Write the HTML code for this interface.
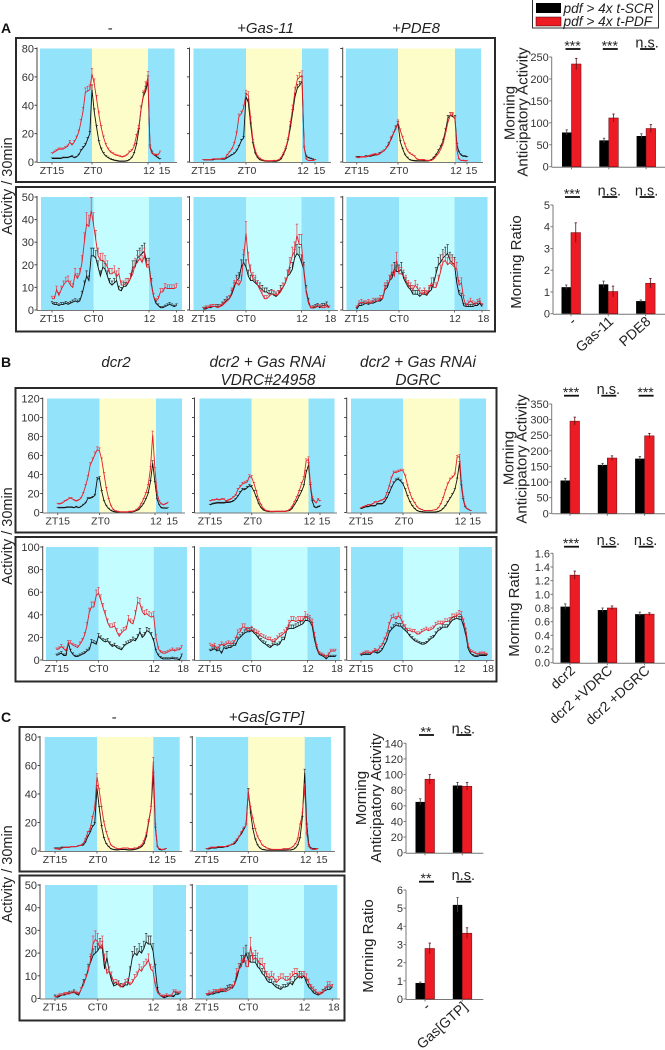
<!DOCTYPE html>
<html lang="en">
<head>
<meta charset="utf-8">
<title>Morning anticipatory activity</title>
<style>
html,body{margin:0;padding:0;background:#fff;width:665px;height:1050px;overflow:hidden}
svg{display:block;font-family:"Liberation Sans",Arial,sans-serif}
.h{font-size:15px;font-style:italic;fill:#222;text-anchor:middle}
.p{font-size:14px;font-weight:bold;fill:#111}
.t{font-size:15px;fill:#222;text-anchor:middle}
</style>
</head>
<body>
<svg id="fig" xmlns="http://www.w3.org/2000/svg" width="665" height="1050" viewBox="0 0 665 1050">
  <rect width="665" height="1050" fill="#fff"/>
  <g id="layer"></g>
  <g fill="none" stroke="#2a2a2a" stroke-width="2">
    <rect x="16" y="38" width="479" height="144"/>
    <rect x="16" y="187" width="479" height="144.5"/>
    <rect x="15.5" y="388" width="481" height="144.5"/>
    <rect x="15.5" y="537" width="481" height="144.5"/>
    <rect x="19.5" y="727" width="325" height="144.5"/>
    <rect x="19.5" y="875.5" width="325" height="145"/>
  </g>
  <text class="p" x="1" y="33">A</text>
  <text class="p" x="1" y="367">B</text>
  <text class="p" x="1" y="722">C</text>
  <text class="h" x="110" y="33">-</text>
  <text class="h" x="265.5" y="33">+Gas-11</text>
  <text class="h" x="416" y="33">+PDE8</text>
  <text class="h" x="116" y="367">dcr2</text>
  <text class="h" style="font-size:15.4px" x="267.5" y="367">dcr2 + Gas RNAi</text>
  <text class="h" style="font-size:15.4px" x="268" y="385">VDRC#24958</text>
  <text class="h" style="font-size:15.4px" x="418" y="367">dcr2 + Gas RNAi</text>
  <text class="h" style="font-size:15.4px" x="418" y="385">DGRC</text>
  <text class="h" x="114" y="722">-</text>
  <text class="h" x="266.5" y="722">+Gas[GTP]</text>
  <text class="t" style="font-size:14.5px" transform="translate(12,186) rotate(-90)">Activity / 30min</text>
  <text class="t" style="font-size:14.5px" transform="translate(12,536) rotate(-90)">Activity / 30min</text>
  <text class="t" style="font-size:14.5px" transform="translate(12,874) rotate(-90)">Activity / 30min</text>
  <text class="t" transform="translate(514.5,113) rotate(-90)">Morning</text>
  <text class="t" transform="translate(527.5,112) rotate(-90)">Anticipatory Activity</text>
  <text class="t" transform="translate(521,262) rotate(-90)">Morning Ratio</text>
  <text class="t" transform="translate(513.5,458) rotate(-90)">Morning</text>
  <text class="t" transform="translate(526.5,459) rotate(-90)">Anticipatory Activity</text>
  <text class="t" transform="translate(519,610) rotate(-90)">Morning Ratio</text>
  <text class="t" transform="translate(366,798) rotate(-90)">Morning</text>
  <text class="t" transform="translate(381,798) rotate(-90)">Anticipatory Activity</text>
  <text class="t" transform="translate(373,946) rotate(-90)">Morning Ratio</text>
  <g>
    <rect x="532.5" y="-1" width="126" height="29" fill="#fff" stroke="#333" stroke-width="1"/>
    <rect x="536" y="3" width="25" height="10" fill="#000"/>
    <rect x="536" y="17" width="25" height="9" fill="#ed1c24" stroke="#300" stroke-width="0.5"/>
    <text x="563.5" y="13" font-size="13.7" font-style="italic" fill="#222">pdf &gt; 4x t-SCR</text>
    <text x="563.5" y="26" font-size="13.7" font-style="italic" fill="#222">pdf &gt; 4x t-PDF</text>
  </g>
</svg>
<script>
// ---------- line chart data (half-hour bins, ZT15 onward) ----------
const ldTickBins = [0, 18, 42, 48];
const ddTickBins = [0, 18, 42, 54];
const ldTickLabels = ['ZT15', 'ZT0', '12', '15'];
const ddTickLabels = ['ZT15', 'CT0', '12', '18'];
const yTicks80 = [0, 20, 40, 60, 80];
const yTicks50 = [0, 10, 20, 30, 40, 50];
const yTicks120 = [0, 20, 40, 60, 80, 100, 120];
const yTicks100 = [0, 20, 40, 60, 80, 100];

const a1Red = [6,7,8,9,9,9,10,11,14,12,14,17,21,28,36,49,50,51,62,55,44,33,24,17,12,9,7,6,5,4.5,4,3.5,4,5,7,8,11,18,24,37,47,53,60,10,6,5,5,5,7];
const a1Black = [2.5,2.5,2.5,2.5,2.5,3,3,3,3.5,4,3,3.5,5,8,10,12,16,20,51,35,24,14,9,6,4,3,2,1.5,1,.7,.5,.5,.5,.7,1.5,3,6,12,22,37,46,50,57,11,7,5,4,3,2];
const a2Red = [1.5,1.5,1.5,1.5,2,2,2,2,2.5,2.5,5,7,9,13,20,32,34,38,48,47,30,15,8,4,2.5,1.5,1,.8,.8,.8,1,1,1.5,3,6,10,16,27,38,50,58,60,61,10,2,1,1,1,1.5];
const a2Black = [1.5,1.5,1.5,1.5,1.5,2,2,2,2,2,3,4,5,6,8,11,15,17,46,42,26,13,6,3,1.5,1,.7,.5,.5,.5,.5,.5,1,2,5,9,15,24,35,46,52,54,57,10,4,3,2.5,2,1.5];
const a3Red = [3,3,3.5,3.5,3.5,4,4.5,5,5.5,5,5.5,7,8,10,12,17,20,23,28,22,17,12,8,6,5,4,2,1.5,1.5,1.5,1,1,1,2,4,6,9,13,20,28,33,33,30,8,2,1,1,.8,.8];
const a3Black = [3.5,3.5,3.5,3.5,4,4,4,4.5,5,5,6,7,8,10,13,16,20,24,27,14,9,5,3,1.5,1,.8,.7,.6,.6,.8,.6,.8,1.5,3,5,8,11,15,22,31,33,32,31,12,7,5,4,4,3.5];
const a4Red = [5,5,9,6.5,9,11,12.5,13,11,10,16,14,16,21,30,38,37,44,38,31,24,22,22,21,19,16,16,17,15,16,11,11,12,12,14,16,20,21,23,21,24,19,19,11,6,4,5,8,8,10,9.5,9.5,9.5,9.5,10];
const a4Black = [3,2.5,2.5,2,2.5,2.5,3,2.5,3,3.5,4,3.5,4,7,11,15,13,24,24,23,19,15,19,18,15,12,11,12,13,9,8.5,10.5,10.5,12,14,19,19,23,24,25,26,20,20,12,6,3,2,1,1,1.5,2,2.5,2,1.5,2];
const a5Red = [.5,1,1,1.5,1.5,1.5,1,1.5,2,3,4,5,8,11,12,11,13,23,34,22,17,14,13,11,9,7,5,5,6,7,7,6.5,7,8,10,12,15,20,24,26,33,29,29,17,8,3,1,.8,1,1.5,1.5,1,1,1.5,1];
const a5Black = [.3,.5,1,1,1.5,1.5,1.5,1.5,2.5,3.5,4.5,5,7,10,13,14,19,21,19,15,13,13,12,11,10,9,8,8,7,7.5,6.5,6,7,9,10,12,15,16,18,23,25,24,21,18,9,4,1,1,1.5,2,1,2,2,2.5,1];
const a6Red = [1,3,3.5,3,3,3.5,3,4,4,4,5,5,10,11,13,17,15,22,16,16,15,13,11,10,9,11,9.5,8,7,8,7,9,12,10,10,13,17,21,22,20,21,20,19,18,11,12,5,2,3,4,3,2.5,3.5,4,2];
const a6Black = [.3,2,2,2.5,3,2.5,3,3,3.5,4,4,5,9,10,13,14,18,17,17,18,14,12,10,9,7,7,7,6,7,7,6.5,8,9,12,16,20,21,23,24,25,22,21,20,12,7,6,2,1.5,1.5,1.5,1.5,2,2,3,1.5];
const b1Red = [9,9,10,12,13,15,15,13,12,13,15,20,28,37,50,55,61,66,65,55,40,25,14,7,3,1.5,1,.5,.5,.5,.5,1,1,1.5,3,5,9,14,20,28,46,82,45,20,12,9,8,9,10];
const b1Black = [5,5,5,5,5.5,5.5,5.5,5,6,5,6,8,10,15,15,16,18,35,36,22,12,7,4,2,1,.5,.5,.3,.3,.3,.3,.5,.5,1,2,3,6,9,14,20,32,52,31,14,8,5,4.5,4.5,4.5];
const b2Red = [12,13,13,14,13,14,14,12,13,14,16,18,24,27,30,31,32,38,37,30,22,13,8,4,2,1.5,1,1,1,1,1,1,1,1.5,3,6,11,16,22,30,36,54,56,30,16,12,10,14,12];
const b2Black = [8,9,9.5,10,10,10,10,10.5,10.5,11,12,14,17,21,24,24,26,28,27,22,16,9,5,2.5,1.5,1,.8,.8,1,1,1,1,1,1.5,2,4,8,12,17,22,28,42,50,28,12,6,5,6,6.5];
const b3Red = [5,6,7,8,8,9,11,11,12,13,14,20,27,36,42,42,43,44,44,38,28,20,14,10,6,4,3,2,2,2,2,2.5,3,5,9,15,23,30,35,37,40,58,59,32,16,7,4,3,2];
const b3Black = [4,5,6,6,7,7,7,9,9,9,11,15,20,26,31,34,35,33,30,24,17,11,7,4,2,1,.7,.5,.3,.3,.3,.3,.5,1,2,4,7,11,15,19,24,35,52,28,14,6,4,3,2];
const b4Red = [9,10,12,10,8,15,15,13,12,11,14,17,22,30,42,47,47,57,59,53,46,40,33,29,29,30,25,21,24,26,27,36,33,32,40,51,50,43,40,41,39,38,39,20,10,7,6,6,7,8,9,8,9,9,11];
const b4Black = [4,5,6,4,4,15,8,5,3,3,4,5,6,8,9,16,15,14,21,19,17,16,17,14,12,13,11,10,9,12,14,15,16,18,17,20,25,20,22,26,25,22,17,8,4,2,1,1,1,1,1.5,1,1,0,4];
const b5Red = [13,12,13,10,12,14,13,14,15,14,15,18,24,25,29,29,26,26,27,25,24,23,21,20,19,18,18,16,17,19,21,22,24,26,32,35,35,34,35,35,35,39,37,36,33,22,12,6,5,4,3,5,8,8,8];
const b5Black = [8,9,10,8,9,6,11,10,11,11,13,13,18,20,22,24,25,25,26,24,22,19,17,15,14,12,11,13,14,13,14,18,18,26,28,28,28,29,30,31,32,35,35,34,30,18,10,5,4,3,1,3,3,3,3];
const b6Red = [5,6,7,7,6,7,9,8,11,13,18,22,31,37,38,36,39,37,32,29,26,26,25,25,23,23,25,26,27,26,27,28,31,32,32,32,34,34,35,38,38,39,41,40,34,26,13,8,7,6,5,6,6,6,5];
const b6Black = [4,5,5,5,5,7,7,6,7,9,13,17,24,27,29,31,30,30,28,26,24,21,19,17,16,15,14,14,15,17,19,20,23,26,27,29,29,29,32,35,36,37,36,36,30,22,10,6,4,3,3,4,4,4,4];
const c1Red = [1.5,1.5,1,2,2.5,2.5,2.5,3,3,3,3.5,4,5,8,13,15,23,30,52,42,30,20,13,8,4,3,2,1.5,1.5,2,2,2,1.5,1.5,2,2,3,4,7,12,21,30,63,18,3,1.5,1,1,1.5];
const c1Black = [2,2,2,2.5,2.5,2.5,2.5,3,3,3,3.5,4,4,6,10,13,17,19,44,30,17,9,5,3,1.5,1,.8,.8,1,1,1,.8,.6,.8,1,1.5,2,3,5,10,20,30,53,16,3,1,.8,1,1.5];
const c2Red = [1.5,2,2.5,2.5,2.5,3,3,3,3,3.5,4,4.5,6,8,10,13,16,18,41,30,22,15,10,7,4,3,2,1.5,1,1,1,1,1,1.5,1.5,1.5,2,3,5,8,18,26,45,12,3,1.5,1,1,1.5];
const c2Black = [1.5,1.5,2,2,2,2.5,2.5,2.5,3,3,4,4.5,5,7,10,12,15,18,42,26,15,8,4,2,1,.8,.5,.5,.5,.5,.5,.5,.5,.5,.5,.6,.7,1,2,4,9,23,55,18,4,2,1.5,1.5,1.5];
const c3Red = [.5,1,1.5,1.5,2,2,2,2.5,2.5,2.5,2,4,6,9,12,17,24,26,25,22,24,17,11,12,10,7,7,6,5,5.5,7,7.5,6,7,9,10,13,12,14,15,17,13,12,6,2.5,1.5,1,1,1.5,1,1,3,3,2.5,2.5];
const c3Black = [1,.5,1,1.5,1.5,2,2.5,2.5,3,2,1.5,4,7,9,13,16,19,20,21,23,22,13,18,12,8,5.5,6,6.5,5.5,5,6,6,12,18,20,19,21,20,22,25,24,24,21,13,4,1.5,.8,.3,.8,1,1,.8,2,1.8,2.5];
const c4Red = [1.5,2.5,2,3,3,3,3.5,3.5,3,3.5,4,5,6,11,13,14,19,14,14,23,17,18,17,15,15,13,10,9,10,9,7,8,9,9,8,8,9,10,11,11,9,10,10,9,7,5,4,3,2,2,2.5,4,6,6,5];
const c4Black = [1.5,1.5,2,2,2.5,2.5,3,3,3.5,4.5,5,4.5,6,9,13,16,16,20,17,16,16,16,14,13,11,10,8,7,7,6,5,4.5,4,5,5,5.5,7,6,8,9,10,9,10,7,5,4,2.5,2,1.5,2,3,3.5,4,4,5];

// ---------- bar chart data ----------
const aGroups = ['-', 'Gas-11', 'PDE8'];
const bGroups = ['dcr2', 'dcr2 +VDRC', 'dcr2 +DGRC'];
const cGroups = ['-', 'Gas[GTP]'];
const aAnticTicks = ['0','50','100','150','200','250'];
const aRatioTicks = ['0','1','2','3','4','5'];
const bAnticTicks = ['0','50','100','150','200','250','300','350'];
const bRatioTicks = ['0.0','0.2','0.4','0.6','0.8','1.0','1.2','1.4','1.6'];
const cAnticTicks = ['0','20','40','60','80','100','120','140'];
const cRatioTicks = ['0','1','2','3','4','5','6'];
const aAnticScr = [78, 60, 70];
const aAnticPdf = [234, 111, 87];
const aAnticScrErr = [6, 5, 5];
const aAnticPdfErr = [13, 9, 9];
const aAnticSig = ['***', '***', 'n.s.'];
const aRatioScr = [1.22, 1.35, 0.58];
const aRatioPdf = [3.73, 1.02, 1.4];
const aRatioScrErr = [0.1, 0.15, 0.05];
const aRatioPdfErr = [0.45, 0.25, 0.22];
const aRatioSig = ['***', 'n.s.', 'n.s.'];
const bAnticScr = [105, 155, 175];
const bAnticPdf = [295, 177, 248];
const bAnticScrErr = [7, 5, 7];
const bAnticPdfErr = [13, 7, 8];
const bAnticSig = ['***', 'n.s.', '***'];
const bRatioScr = [0.82, 0.77, 0.71];
const bRatioPdf = [1.28, 0.8, 0.71];
const bRatioScrErr = [0.04, 0.03, 0.03];
const bRatioPdfErr = [0.06, 0.03, 0.02];
const bRatioSig = ['***', 'n.s.', 'n.s.'];
const cAnticScr = [65, 86];
const cAnticPdf = [94, 85];
const cAnticScrErr = [4, 4];
const cAnticPdfErr = [6, 5];
const cAnticSig = ['**', 'n.s.'];
const cRatioScr = [0.88, 5.18];
const cRatioPdf = [2.78, 3.62];
const cRatioScrErr = [0.05, 0.4];
const cRatioPdfErr = [0.3, 0.3];
const cRatioSig = ['**', 'n.s.'];

// ---------- drawing helpers ----------
const NS = 'http://www.w3.org/2000/svg';
const layer = document.getElementById('layer');
const RED = '#e21f2b', BLK = '#111111';
const NIGHT = '#93e3fb', DAY = '#fdfdc9', SUBJ = '#c4fdff';

function make(tag, parent, name, attrs, text) {
  const node = document.createElementNS(NS, tag);
  for (const k in attrs) node.setAttribute(k, attrs[k]);
  
  
  if (text !== undefined) node.textContent = text;
  parent.appendChild(node);
  return node;
}

function linePanel(id, g, red, black, yTicks, tickBins, tickLabels, showY, errFrac, errBase, dayColor) {
  const root = make('g', layer, 'chart-' + id, {});
  const yMax = yTicks[yTicks.length - 1];
  const yS = v => g.y0 + (g.yT - g.y0) * v / yMax;
  const px = [g.x15, g.xD, g.xN, g.xE];
  const labelShift = tickBins[3] === 48 ? [0, 1, 1, 4.5] : [0, 0, 0.5, 1.5];
  const xS = i => {
    for (let s = 0; s < tickBins.length - 1; s++) {
      if (i <= tickBins[s + 1]) {
        return px[s] + (px[s + 1] - px[s]) * (i - tickBins[s]) / (tickBins[s + 1] - tickBins[s]);
      }
    }
    return px[3];
  };
  make('rect', root, 'night-band-left', {x: g.bL, y: g.yT, width: g.s1 - g.bL, height: g.y0 - g.yT, fill: NIGHT});
  make('rect', root, 'day-band', {x: g.s1, y: g.yT, width: g.s2 - g.s1, height: g.y0 - g.yT, fill: dayColor});
  make('rect', root, 'night-band-right', {x: g.s2, y: g.yT, width: g.bR - g.s2, height: g.y0 - g.yT, fill: NIGHT});
  make('line', root, 'y-axis', {x1: g.ax, x2: g.ax, y1: g.yT - 1, y2: g.y0, stroke: '#444', 'stroke-width': 1});
  make('line', root, 'x-axis', {x1: g.ax, x2: g.end, y1: g.y0 + .5, y2: g.y0 + .5, stroke: '#777', 'stroke-width': 1});
  yTicks.forEach(t => {
    make('line', root, 'y-tick', {x1: g.ax - 2.5, x2: g.ax, y1: yS(t), y2: yS(t), stroke: '#444', 'stroke-width': 1});
    if (showY) {
      make('text', root, 'y-tick-label', {x: g.ax - 3, y: yS(t) + 4, 'text-anchor': 'end', 'font-size': 11, fill: '#333'}, t);
    }
  });
  tickBins.forEach((b, i) => {
    make('line', root, 'x-tick', {x1: xS(b), x2: xS(b), y1: g.y0, y2: g.y0 + 2.5, stroke: '#666', 'stroke-width': 1});
    make('text', root, 'x-tick-label', {x: xS(b) + labelShift[i], y: g.y0 + 12, 'text-anchor': 'middle', 'font-size': 10.5, fill: '#333'}, tickLabels[i]);
  });
  [[black, BLK, '#333', 'scr'], [red, RED, '#e8434e', 'pdf']].forEach(([vals, col, errCol, key]) => {
    let d = '', e = '';
    vals.forEach((v, i) => {
      const x = xS(i), y = yS(v), top = yS(v + v * errFrac + errBase);
      d += (i ? 'L' : 'M') + x.toFixed(1) + ' ' + y.toFixed(1);
      e += 'M' + x.toFixed(1) + ' ' + y.toFixed(1) + 'V' + top.toFixed(1) + 'M' + (x - 1.2).toFixed(1) + ' ' + top.toFixed(1) + 'H' + (x + 1.2).toFixed(1);
    });
    make('path', root, 'error-bars-' + key, {d: e, fill: 'none', stroke: errCol, 'stroke-width': .7});
    make('path', root, 'activity-line-' + key, {d: d, fill: 'none', stroke: col, 'stroke-width': .9});
  });
}

function barPanel(id, g, labels, scr, pdf, scrErr, pdfErr, ticks, sig) {
  const root = make('g', layer, 'bar-chart-' + id, {});
  const yMax = parseFloat(ticks[ticks.length - 1]);
  const yS = v => g.y0 + (g.yT - g.y0) * v / yMax;
  make('line', root, 'y-axis', {x1: g.ax, x2: g.ax, y1: g.yT, y2: g.y0, stroke: '#777', 'stroke-width': 1});
  make('line', root, 'x-axis', {x1: g.ax, x2: g.end, y1: g.y0 + .5, y2: g.y0 + .5, stroke: '#777', 'stroke-width': 1});
  ticks.forEach(t => {
    const y = yS(parseFloat(t));
    make('line', root, 'y-tick', {x1: g.ax - 2.5, x2: g.ax, y1: y, y2: y, stroke: '#777', 'stroke-width': 1});
    make('text', root, 'y-tick-label', {x: g.ax - 3, y: y + 4, 'text-anchor': 'end', 'font-size': 11, fill: '#333'}, t);
  });
  labels.forEach((lab, i) => {
    const c = g.c0 + g.step * i, w = g.bw;
    make('line', root, 'x-tick', {x1: c, x2: c, y1: g.y0, y2: g.y0 + 2.5, stroke: '#777', 'stroke-width': 1});
    make('rect', root, 'bar-scr-' + lab, {x: c - w, y: yS(scr[i]), width: w, height: g.y0 - yS(scr[i]), fill: '#000'});
    make('rect', root, 'bar-pdf-' + lab, {x: c, y: yS(pdf[i]), width: w, height: g.y0 - yS(pdf[i]), fill: '#ed1c24', stroke: '#7a1218', 'stroke-width': .6});
    [[c - w / 2, scr[i], scrErr[i], '#444'], [c + w / 2, pdf[i], pdfErr[i], '#5a1015']].forEach(([x, v, er, col]) => {
      make('line', root, 'error-bar', {x1: x, x2: x, y1: yS(v - er), y2: yS(v + er), stroke: col, 'stroke-width': .8});
      make('line', root, 'error-cap', {x1: x - 1.2, x2: x + 1.2, y1: yS(v + er), y2: yS(v + er), stroke: col, 'stroke-width': .8});
    });
    make('line', root, 'significance-bar', {x1: c + 1.5 - 7.5, x2: c + 1.5 + 7.5, y1: g.sigY, y2: g.sigY, stroke: '#111', 'stroke-width': 1.8});
    const isStar = sig[i].charAt(0) === '*';
    make('text', root, 'significance-label', {x: c + 1, y: g.sigY + (isStar ? 1.5 : -1.5), 'text-anchor': 'middle', 'font-size': isStar ? 14 : 14.5, fill: '#222'}, sig[i]);
    if (g.showX) {
      const lx = c + 6, ly = g.y0 + 9;
      make('text', root, 'x-category-label', {transform: 'translate(' + lx + ',' + ly + ') rotate(-42)', 'text-anchor': 'end', 'font-size': 14, fill: '#222'}, lab);
    }
  });
}

// ---------- panels ----------
const AT = {yT: 48.5, y0: 162}, AB = {yT: 197, y0: 310};
const BT = {yT: 398.5, y0: 512.5}, BB = {yT: 547, y0: 660};
const CT = {yT: 737, y0: 851}, CB = {yT: 885, y0: 998.5};

linePanel('a1', {...AT, ax: 37, bL: 40, s1: 92, s2: 148, bR: 174.5, x15: 52, xD: 92, xN: 148, xE: 160, end: 177}, a1Red, a1Black, yTicks80, ldTickBins, ldTickLabels, true, .06, .3, DAY);
linePanel('a2', {...AT, ax: 189.5, bL: 193.5, s1: 246, s2: 302, bR: 328.5, x15: 203.5, xD: 246, xN: 302, xE: 315, end: 331}, a2Red, a2Black, yTicks80, ldTickBins, ldTickLabels, false, .05, .2, DAY);
linePanel('a3', {...AT, ax: 342.7, bL: 346, s1: 398, s2: 455, bR: 481, x15: 356.7, xD: 398, xN: 455, xE: 467, end: 483}, a3Red, a3Black, yTicks80, ldTickBins, ldTickLabels, false, .05, .3, DAY);
linePanel('a4', {...AB, ax: 37, bL: 41, s1: 93.5, s2: 149, bR: 182, x15: 52, xD: 93.5, xN: 149, xE: 176.5, end: 185}, a4Red, a4Black, yTicks50, ddTickBins, ddTickLabels, true, .12, .5, SUBJ);
linePanel('a5', {...AB, ax: 189.5, bL: 193.5, s1: 246, s2: 301.5, bR: 334.5, x15: 203.5, xD: 246, xN: 301.5, xE: 329, end: 338}, a5Red, a5Black, yTicks50, ddTickBins, ddTickLabels, false, .13, .7, SUBJ);
linePanel('a6', {...AB, ax: 342.7, bL: 346.5, s1: 399, s2: 454.5, bR: 487.5, x15: 356.7, xD: 399, xN: 454.5, xE: 482, end: 490}, a6Red, a6Black, yTicks50, ddTickBins, ddTickLabels, false, .13, .7, SUBJ);

linePanel('b1', {...BT, ax: 42.7, bL: 47, s1: 99.5, s2: 156, bR: 182, x15: 57.7, xD: 99.5, xN: 155, xE: 167.7, end: 185}, b1Red, b1Black, yTicks120, ldTickBins, ldTickLabels, true, .04, .4, DAY);
linePanel('b2', {...BT, ax: 194.5, bL: 199.5, s1: 251.7, s2: 308.5, bR: 334.5, x15: 210, xD: 251.7, xN: 308.5, xE: 320, end: 337}, b2Red, b2Black, yTicks120, ldTickBins, ldTickLabels, false, .04, .4, DAY);
linePanel('b3', {...BT, ax: 346.7, bL: 351, s1: 403, s2: 459.5, bR: 486, x15: 361, xD: 403, xN: 459.5, xE: 470.7, end: 487}, b3Red, b3Black, yTicks120, ldTickBins, ldTickLabels, false, .03, .3, DAY);
linePanel('b4', {...BB, ax: 42.7, bL: 46, s1: 98.5, s2: 153.7, bR: 187, x15: 56.7, xD: 98.5, xN: 153.7, xE: 181.7, end: 190}, b4Red, b4Black, yTicks100, ddTickBins, ddTickLabels, true, .07, 1, SUBJ);
linePanel('b5', {...BB, ax: 194.5, bL: 199.5, s1: 251.7, s2: 307.5, bR: 340, x15: 210, xD: 251.7, xN: 307.5, xE: 335.5, end: 342}, b5Red, b5Black, yTicks100, ddTickBins, ddTickLabels, false, .07, 1, SUBJ);
linePanel('b6', {...BB, ax: 346.7, bL: 351, s1: 403, s2: 459, bR: 492, x15: 361, xD: 403, xN: 459, xE: 486.7, end: 494}, b6Red, b6Black, yTicks100, ddTickBins, ddTickLabels, false, .05, .8, SUBJ);

linePanel('c1', {...CT, ax: 40, bL: 44.7, s1: 97, s2: 153.3, bR: 179.7, x15: 55, xD: 97, xN: 153.3, xE: 165.7, end: 182}, c1Red, c1Black, yTicks80, ldTickBins, ldTickLabels, true, .04, .2, DAY);
linePanel('c2', {...CT, ax: 192.3, bL: 196, s1: 248.3, s2: 304.7, bR: 331, x15: 206.7, xD: 248.3, xN: 304.7, xE: 317.3, end: 335}, c2Red, c2Black, yTicks80, ldTickBins, ldTickLabels, false, .04, .2, DAY);
linePanel('c3', {...CB, ax: 40, bL: 45, s1: 97.7, s2: 153, bR: 186, x15: 55, xD: 97.7, xN: 153, xE: 180.3, end: 190}, c3Red, c3Black, yTicks50, ddTickBins, ddTickLabels, true, .13, .4, SUBJ);
linePanel('c4', {...CB, ax: 192.3, bL: 196, s1: 248.3, s2: 304, bR: 337.3, x15: 206.7, xD: 248.3, xN: 304, xE: 332.3, end: 340}, c4Red, c4Black, yTicks50, ddTickBins, ddTickLabels, false, .15, .5, SUBJ);

barPanel('a-anticipatory', {ax: 551.7, yT: 57, y0: 166.7, end: 665, c0: 571.5, step: 37.3, bw: 9.5, sigY: 49, showX: false}, aGroups, aAnticScr, aAnticPdf, aAnticScrErr, aAnticPdfErr, aAnticTicks, aAnticSig);
barPanel('a-ratio', {ax: 553, yT: 205, y0: 313.7, end: 665, c0: 571, step: 37.3, bw: 9.5, sigY: 197, showX: true}, aGroups, aRatioScr, aRatioPdf, aRatioScrErr, aRatioPdfErr, aRatioTicks, aRatioSig);
barPanel('b-anticipatory', {ax: 551.7, yT: 404, y0: 513.3, end: 665, c0: 570, step: 37.3, bw: 9.5, sigY: 395.7, showX: false}, bGroups, bAnticScr, bAnticPdf, bAnticScrErr, bAnticPdfErr, bAnticTicks, bAnticSig);
barPanel('b-ratio', {ax: 553, yT: 553.3, y0: 662.7, end: 665, c0: 570, step: 37.3, bw: 9.5, sigY: 546.7, showX: true}, bGroups, bRatioScr, bRatioPdf, bRatioScrErr, bRatioPdfErr, bRatioTicks, bRatioSig);
barPanel('c-anticipatory', {ax: 406, yT: 743.3, y0: 852.7, end: 483.3, c0: 425, step: 37.3, bw: 9.5, sigY: 735, showX: false}, cGroups, cAnticScr, cAnticPdf, cAnticScrErr, cAnticPdfErr, cAnticTicks, cAnticSig);
barPanel('c-ratio', {ax: 406, yT: 890, y0: 999, end: 483.3, c0: 425, step: 37.3, bw: 9.5, sigY: 881.7, showX: true}, cGroups, cRatioScr, cRatioPdf, cRatioScrErr, cRatioPdfErr, cRatioTicks, cRatioSig);
</script>
</body>
</html>
